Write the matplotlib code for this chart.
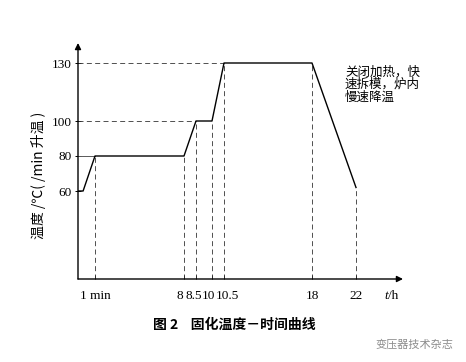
import numpy as np
import matplotlib
matplotlib.use("Agg")
import matplotlib.pyplot as plt
from matplotlib.transforms import ScaledTranslation

plt.rcParams['font.family'] = ['Noto Sans CJK SC', 'DejaVu Sans']

# cure profile: time in hours, temperature in degC
t_hours = [0, 0.3 / 60, 1 / 60, 8, 8.5, 10, 10.5, 18, 22]
temp_c = [60, 60, 80, 80, 100, 100, 130, 130, 62]

x_ticks = [1 / 60, 8, 8.5, 10, 10.5, 18, 22]
x_labels = ["1 min", "8", "8.5", "10", "10.5", "18", "22"]
y_ticks = [60, 80, 100, 130]

# points where a guide drops to the time axis
drop_t = [1 / 60, 8, 8.5, 10, 10.5, 18, 22]
drop_temp = [80, 80, 100, 100, 130, 130, 62]

note = "关闭加热，快\n速拆模，炉内\n慢速降温"
y_title = "温度 /℃( /min 升温 )"
caption = "图 2    固化温度－时间曲线"
mark = "变压器技术杂志"

# the time axis is not to scale: stretch it piecewise
tx_knots = np.array([0, 1 / 60, 8, 8.5, 10, 10.5, 18, 22, 25])
tx_pos = np.array([0, 17, 106, 118, 134, 146, 234, 278, 325], dtype=float)
ty_knots = np.array([0, 60, 80, 100, 130, 143])
ty_pos = np.array([0, 88, 123, 158, 216, 236], dtype=float)


def x_fwd(v):
    return np.interp(v, tx_knots, tx_pos)


def x_inv(v):
    return np.interp(v, tx_pos, tx_knots)


def y_fwd(v):
    return np.interp(v, ty_knots, ty_pos)


def y_inv(v):
    return np.interp(v, ty_pos, ty_knots)


serif = ['Liberation Serif', 'DejaVu Serif']

fig = plt.figure(figsize=(4.66, 3.62), dpi=100)
fig.patch.set_facecolor("white")
ax = fig.add_axes([78 / 466, 83 / 362, 325 / 466, 236 / 362])
ax.set_xscale('function', functions=(x_fwd, x_inv))
ax.set_yscale('function', functions=(y_fwd, y_inv))
ax.set_xlim(0, 25)
ax.set_ylim(0, 143)

# guide lines
dash = dict(color='0.2', lw=0.6, ls=(0, (6, 4)))
for t, v in zip(drop_t, drop_temp):
    ax.plot([t, t], [0, v], **dash)
ax.plot([0, 10.5], [130, 130], **dash)
ax.plot([0, 8.5], [100, 100], **dash)
ax.plot([0, 1 / 60], [80, 80], color='0.35', lw=0.7)

# the curve
ax.plot(t_hours, temp_c, color='black', lw=1.0)

for s in ax.spines.values():
    s.set_visible(False)
arrow = dict(arrowstyle='-|>', color='black', lw=1.0, mutation_scale=9,
             shrinkA=0, shrinkB=0)
ax.annotate('', xy=(1, 0), xytext=(0, 0), xycoords='axes fraction',
            arrowprops=arrow)
ax.annotate('', xy=(0, 1), xytext=(0, 0), xycoords='axes fraction',
            arrowprops=arrow)

ax.set_xticks(x_ticks)
ax.set_xticklabels(x_labels, family=serif, fontsize=9.5)
ax.set_yticks(y_ticks)
ax.set_yticklabels([str(v) for v in y_ticks], family=serif, fontsize=9.5)
ax.minorticks_off()
ax.tick_params(axis='x', direction='in', length=3, width=0.7, pad=8)
ax.tick_params(axis='y', direction='inout', length=5, width=0.7, pad=2)

# the crowded labels around 8-10.5 h sit a little apart
nudge_px = [0, -4, -2, -4, 3, 0, 0]
for lab, dx in zip(ax.get_xticklabels(), nudge_px):
    lab.set_transform(lab.get_transform() +
                      ScaledTranslation(dx / 100, 0, fig.dpi_scale_trans))

ax.set_ylabel(y_title, fontsize=10, family=['Noto Sans CJK SC', 'DejaVu Sans'])
ax.yaxis.set_label_coords(-0.10, 0.44)
ax.text(0.955, -0.07, "t", style='italic', family=serif, fontsize=9.5,
        transform=ax.transAxes, ha='right', va='center')
ax.text(0.955, -0.07, "/h", family=serif, fontsize=9.5,
        transform=ax.transAxes, ha='left', va='center')

ax.text(21, 128.5, note, fontsize=9, va='top', ha='left', linespacing=0.92)

fig.text(234 / 466, 1 - 325 / 362, caption, fontsize=10, fontweight='bold',
         ha='center', va='center')
fig.text(414 / 466, 1 - 344 / 362, mark, fontsize=8, color='0.55',
         ha='center', va='center')

fig.savefig("out.png", dpi=100)
